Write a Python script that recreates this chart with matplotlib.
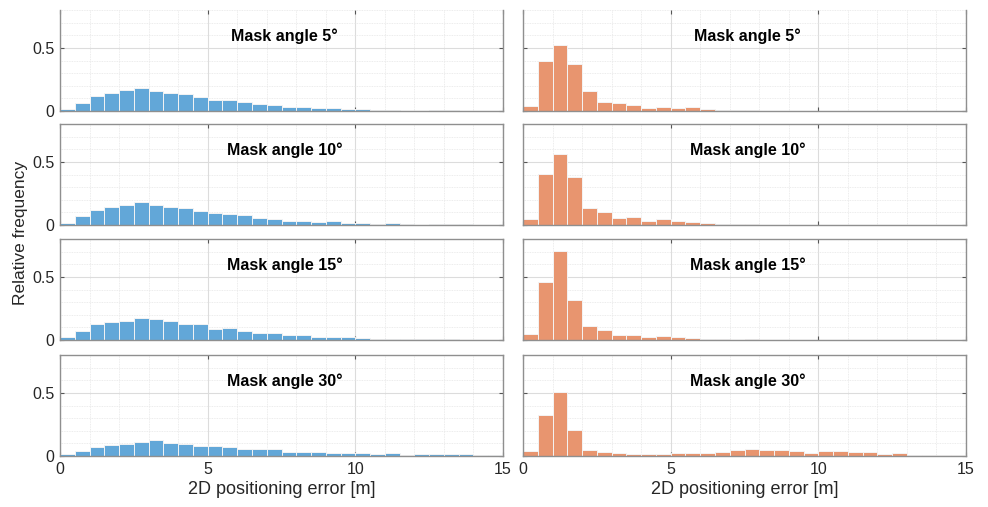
import numpy as np
import matplotlib
matplotlib.use("Agg")
import matplotlib.pyplot as plt
from matplotlib.ticker import MultipleLocator

plt.rcParams['font.family'] = ['Liberation Sans', 'DejaVu Sans']

# Histogram bins: 0.5 m wide, 0 to 15 m
bin_edges = np.arange(0, 15.01, 0.5)
mask_angles = [5, 10, 15, 30]

# Relative frequency per bin, left column (blue)
blue_5 = [0.013, 0.067, 0.117, 0.141, 0.163, 0.179, 0.160, 0.141, 0.131, 0.107,
          0.088, 0.085, 0.075, 0.053, 0.048, 0.029, 0.029, 0.021, 0.024, 0.016,
          0.013, 0.008, 0.008, 0.003, 0.003, 0.005, 0.005, 0.0, 0.0, 0.0]
blue_10 = [0.019, 0.069, 0.122, 0.144, 0.162, 0.181, 0.160, 0.144, 0.136, 0.112,
           0.093, 0.088, 0.077, 0.056, 0.051, 0.035, 0.035, 0.027, 0.029, 0.019,
           0.019, 0.008, 0.013, 0.005, 0.003, 0.005, 0.008, 0.008, 0.0, 0.0]
blue_15 = [0.021, 0.074, 0.125, 0.141, 0.154, 0.176, 0.170, 0.149, 0.128, 0.128,
           0.090, 0.096, 0.074, 0.053, 0.053, 0.040, 0.040, 0.027, 0.027, 0.024,
           0.013, 0.008, 0.008, 0.008, 0.008, 0.008, 0.005, 0.003, 0.0, 0.0]
blue_30 = [0.013, 0.043, 0.069, 0.088, 0.096, 0.112, 0.125, 0.106, 0.093, 0.082,
           0.077, 0.072, 0.056, 0.059, 0.053, 0.032, 0.032, 0.032, 0.021, 0.024,
           0.027, 0.019, 0.021, 0.008, 0.016, 0.016, 0.016, 0.013, 0.008, 0.008]

# Relative frequency per bin, right column (orange)
orange_5 = [0.043, 0.400, 0.523, 0.371, 0.157, 0.075, 0.061, 0.051, 0.027, 0.032,
            0.021, 0.029, 0.019, 0.008, 0.008, 0.008, 0.003, 0.0, 0.0, 0.0,
            0.0, 0.0, 0.0, 0.0, 0.0, 0.0, 0.0, 0.0, 0.0, 0.0]
orange_10 = [0.050, 0.404, 0.559, 0.383, 0.138, 0.101, 0.059, 0.064, 0.035, 0.045,
             0.035, 0.021, 0.013, 0.005, 0.005, 0.005, 0.0, 0.0, 0.0, 0.0,
             0.0, 0.0, 0.0, 0.0, 0.0, 0.0, 0.0, 0.0, 0.0, 0.0]
orange_15 = [0.050, 0.463, 0.702, 0.314, 0.112, 0.077, 0.037, 0.043, 0.021, 0.029,
             0.021, 0.013, 0.008, 0.005, 0.003, 0.008, 0.0, 0.0, 0.0, 0.0,
             0.0, 0.0, 0.0, 0.0, 0.0, 0.0, 0.0, 0.0, 0.0, 0.0]
orange_30 = [0.043, 0.327, 0.508, 0.207, 0.048, 0.029, 0.024, 0.016, 0.016, 0.016,
             0.021, 0.024, 0.027, 0.032, 0.048, 0.053, 0.045, 0.045, 0.043, 0.024,
             0.037, 0.037, 0.032, 0.029, 0.016, 0.021, 0.011, 0.005, 0.005, 0.011]

blue_series = [blue_5, blue_10, blue_15, blue_30]
orange_series = [orange_5, orange_10, orange_15, orange_30]

x_ticks = [0, 5, 10, 15]
y_ticks = [0, 0.5]

blue_color = "#62a7d8"
orange_color = "#e8956f"
spine_color = "#8f8f8f"

W, H = 988, 507
fig = plt.figure(figsize=(W / 100, H / 100), dpi=100)

col_left = [60, 523]
col_width = 443
row_top = [10, 124, 239, 355]
row_height = 101


def style_axes(ax, row, col):
    ax.set_xlim(0, 15)
    ax.set_ylim(0, 0.8)
    ax.set_xticks(x_ticks)
    ax.set_yticks(y_ticks)
    ax.xaxis.set_minor_locator(MultipleLocator(1))
    ax.yaxis.set_minor_locator(MultipleLocator(0.1))
    ax.grid(which="major", color="#dcdcdc", linewidth=0.8, linestyle="-")
    ax.grid(which="minor", color="#e6e6e6", linewidth=0.6, linestyle=(0, (1, 1)))
    ax.set_axisbelow(True)
    ax.tick_params(which="major", direction="in", length=3, width=0.8,
                   color="#555555", top=True, right=True,
                   labelsize=11.5, labelcolor="#262626", pad=4)
    ax.tick_params(which="minor", length=0)
    for s in ax.spines.values():
        s.set_color(spine_color)
        s.set_linewidth(1.0)
    if row == 0:
        ax.spines["top"].set_visible(False)
    if row < 3:
        ax.tick_params(labelbottom=False)
    if col == 1:
        ax.tick_params(labelleft=False)
    ax.set_yticklabels(["0", "0.5"]) if col == 0 else None


for col, series_list, color in [(0, blue_series, blue_color),
                                (1, orange_series, orange_color)]:
    for row in range(4):
        left = col_left[col] / W
        bottom = 1 - (row_top[row] + row_height) / H
        ax = fig.add_axes([left, bottom, col_width / W, row_height / H])
        ax.bar(bin_edges[:-1], series_list[row], width=0.5, align="edge",
               color=color, edgecolor="#f4f4f4", linewidth=0.7, zorder=2)
        style_axes(ax, row, col)
        ax.text(7.6, 0.59, f"Mask angle {mask_angles[row]}°", ha="center",
                va="center", fontsize=11.5, fontweight="bold", color="black")
        if row == 3:
            ax.set_xlabel("2D positioning error [m]", fontsize=13,
                          color="#262626", labelpad=3)

fig.text(20 / W, 1 - 233 / H, "Relative frequency", rotation=90,
         ha="center", va="center", fontsize=12.5, color="#262626")

fig.savefig("out.png", dpi=100, facecolor="white")
